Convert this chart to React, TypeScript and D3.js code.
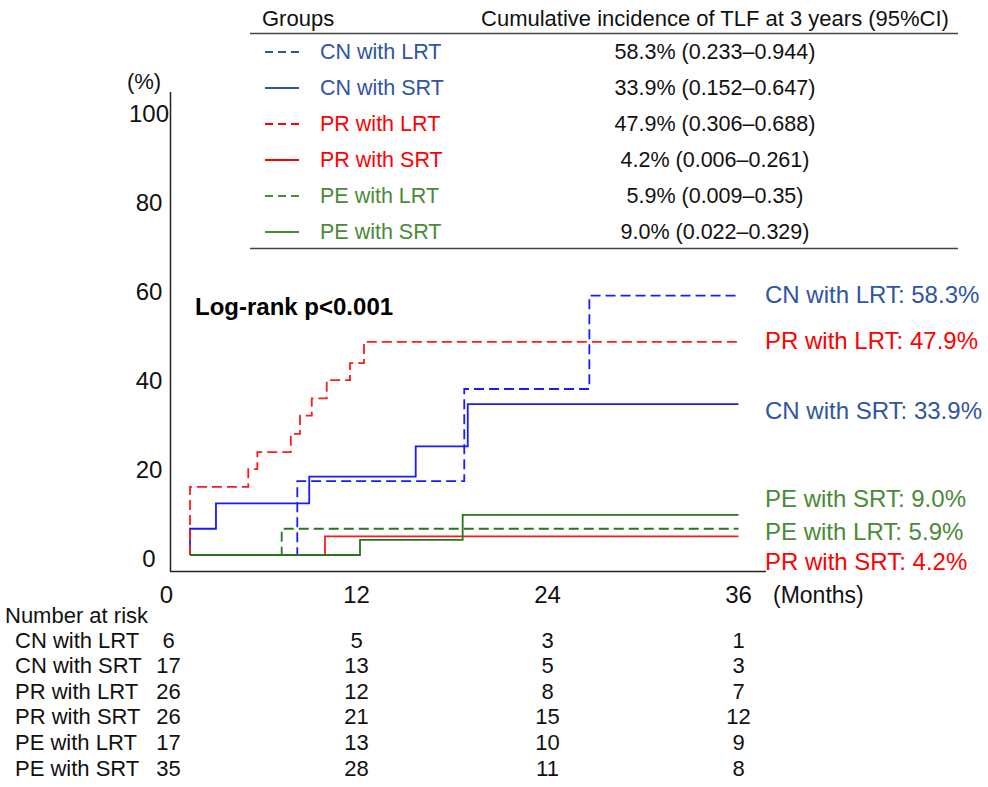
import React, { useEffect, useRef } from 'react';
import * as d3 from 'd3';

// groups, in legend order
const groups = ['CN with LRT', 'CN with SRT', 'PR with LRT', 'PR with SRT', 'PE with LRT', 'PE with SRT'];
const finalPct = [58.3, 33.9, 47.9, 4.2, 5.9, 9.0];
const ciText = ['(0.233–0.944)', '(0.152–0.647)', '(0.306–0.688)', '(0.006–0.261)', '(0.009–0.35)', '(0.022–0.329)'];

// step curves (months, %)
const cnLrtTimes = [1.54, 8.28, 18.77, 26.63, 36];
const cnLrtValues = [0, 16.6, 37.3, 58.3, 58.3];
const cnSrtTimes = [1.54, 1.54, 3.17, 9.03, 15.72, 18.99, 36];
const cnSrtValues = [0, 5.9, 11.6, 17.6, 24.4, 33.9, 33.9];
const prLrtTimes = [1.54, 1.54, 5.2, 5.77, 7.87, 8.45, 9.19, 10.13, 11.59, 12.47, 36];
const prLrtValues = [0, 15.3, 19.3, 23.1, 27.2, 31.3, 35.2, 39.3, 43.1, 47.9, 47.9];
const prSrtTimes = [1.54, 10.02, 36];
const prSrtValues = [0, 4.2, 4.2];
const peLrtTimes = [1.54, 7.3, 36];
const peLrtValues = [0, 5.9, 5.9];
const peSrtTimes = [1.54, 12.22, 18.67, 36];
const peSrtValues = [0, 3.4, 9.0, 9.0];

const curveTimes = [cnLrtTimes, cnSrtTimes, prLrtTimes, prSrtTimes, peLrtTimes, peSrtTimes];
const curveValues = [cnLrtValues, cnSrtValues, prLrtValues, prSrtValues, peLrtValues, peSrtValues];

// number at risk
const riskTimes = [0, 12, 24, 36];
const riskCounts = [
  [6, 5, 3, 1],
  [17, 13, 5, 3],
  [26, 12, 8, 7],
  [26, 21, 15, 12],
  [17, 13, 10, 9],
  [35, 28, 11, 8],
];

const yTicks = [0, 20, 40, 60, 80, 100];
const xTicks = [0, 12, 24, 36];

const lineColor = ['#1a1aff', '#1a1aff', '#ff1a1a', '#ff1a1a', '#2a7420', '#2a7420'];
const textColor = ['#2f55a3', '#2f55a3', '#ff0000', '#ff0000', '#4b8a36', '#4b8a36'];
const dashed = [true, false, true, false, true, false];
// pixel nudges so the end labels don't collide
const labelNudge = [-1, 6, -1, 25, 3, -16];

const FONT = '"Liberation Sans", Arial, sans-serif';

const App = () => {
  const svgRef = useRef(null);

  useEffect(() => {
    const svg = d3.select(svgRef.current);
    svg.selectAll('*').remove();

    const x = d3.scaleLinear().domain([0, 36]).range([165.5, 738.5]);
    const y = d3.scaleLinear().domain([0, 100]).range([555, 110]);

    // axes lines
    svg.append('line').attr('x1', 170.5).attr('x2', 170.5).attr('y1', 92).attr('y2', 571.5)
      .attr('stroke', '#222').attr('stroke-width', 1.5);
    svg.append('line').attr('x1', 170).attr('x2', 766).attr('y1', 571.5).attr('y2', 571.5)
      .attr('stroke', '#222').attr('stroke-width', 1.5);

    // y tick labels
    svg.append('g').selectAll('text').data(yTicks).enter().append('text')
      .attr('x', 149).attr('y', d => y(d) + 3)
      .attr('text-anchor', 'middle').attr('dominant-baseline', 'central')
      .attr('font-size', 24).attr('font-family', FONT).attr('fill', '#111')
      .text(d => d);
    svg.append('text').attr('x', 144).attr('y', 81)
      .attr('text-anchor', 'middle').attr('dominant-baseline', 'central')
      .attr('font-size', 22).attr('font-family', FONT).attr('fill', '#111').text('(%)');

    // x tick labels
    svg.append('g').selectAll('text').data(xTicks).enter().append('text')
      .attr('x', d => x(d) + (d === 0 ? 1 : 0)).attr('y', 594)
      .attr('text-anchor', 'middle').attr('dominant-baseline', 'central')
      .attr('font-size', 24).attr('font-family', FONT).attr('fill', '#111')
      .text(d => d);
    svg.append('text').attr('x', 773).attr('y', 595)
      .attr('dominant-baseline', 'central')
      .attr('font-size', 23).attr('font-family', FONT).attr('fill', '#111').text('(Months)');

    // curves
    const line = d3.line<[number, number]>()
      .x(d => x(d[0])).y(d => y(d[1]))
      .curve(d3.curveStepAfter);
    curveTimes.forEach((ts, i) => {
      const pts: [number, number][] = ts.map((t, j) => [t, curveValues[i][j]]);
      svg.append('path').attr('d', line(pts))
        .attr('fill', 'none').attr('stroke', lineColor[i]).attr('stroke-width', 1.8)
        .attr('stroke-dasharray', dashed[i] ? '10,5' : null);
    });

    // end labels
    groups.forEach((g, i) => {
      svg.append('text').attr('x', 765).attr('y', y(finalPct[i]) + labelNudge[i])
        .attr('dominant-baseline', 'central')
        .attr('font-size', 24).attr('font-family', FONT).attr('fill', textColor[i])
        .text(`${g}: ${finalPct[i].toFixed(1)}%`);
    });

    svg.append('text').attr('x', 195).attr('y', 306)
      .attr('dominant-baseline', 'central')
      .attr('font-size', 24).attr('font-weight', 'bold').attr('font-family', FONT).attr('fill', '#000')
      .text('Log-rank p<0.001');

    // legend table
    const leg = svg.append('g');
    leg.append('text').attr('x', 262).attr('y', 18).attr('dominant-baseline', 'central')
      .attr('font-size', 22).attr('font-family', FONT).attr('fill', '#111').text('Groups');
    leg.append('text').attr('x', 715).attr('y', 18).attr('text-anchor', 'middle').attr('dominant-baseline', 'central')
      .attr('font-size', 22).attr('font-family', FONT).attr('fill', '#111')
      .text('Cumulative incidence of TLF at 3 years (95%CI)');
    leg.append('line').attr('x1', 250).attr('x2', 958).attr('y1', 33.5).attr('y2', 33.5)
      .attr('stroke', '#444').attr('stroke-width', 1.5);
    leg.append('line').attr('x1', 250).attr('x2', 958).attr('y1', 248.5).attr('y2', 248.5)
      .attr('stroke', '#444').attr('stroke-width', 1.5);
    groups.forEach((g, i) => {
      const cy = 52 + i * 36;
      leg.append('line').attr('x1', 265).attr('x2', 299).attr('y1', cy).attr('y2', cy)
        .attr('stroke', textColor[i]).attr('stroke-width', 2)
        .attr('stroke-dasharray', dashed[i] ? '8,5' : null);
      leg.append('text').attr('x', 320).attr('y', cy).attr('dominant-baseline', 'central')
        .attr('font-size', 21.5).attr('font-family', FONT).attr('fill', textColor[i]).text(g);
      leg.append('text').attr('x', 715).attr('y', cy).attr('text-anchor', 'middle').attr('dominant-baseline', 'central')
        .attr('font-size', 21.5).attr('font-family', FONT).attr('fill', '#111')
        .text(`${finalPct[i].toFixed(1)}% ${ciText[i]}`);
    });

    // number at risk table
    const risk = svg.append('g');
    risk.append('text').attr('x', 5).attr('y', 615).attr('dominant-baseline', 'central')
      .attr('font-size', 22).attr('font-family', FONT).attr('fill', '#111').text('Number at risk');
    groups.forEach((g, i) => {
      const cy = 640 + i * 25.6;
      risk.append('text').attr('x', 15).attr('y', cy).attr('dominant-baseline', 'central')
        .attr('font-size', 22).attr('font-family', FONT).attr('fill', '#111').text(g);
      riskTimes.forEach((t, j) => {
        risk.append('text').attr('x', x(t) + (j === 0 ? 3 : 0)).attr('y', cy)
          .attr('text-anchor', 'middle').attr('dominant-baseline', 'central')
          .attr('font-size', 22).attr('font-family', FONT).attr('fill', '#111')
          .text(riskCounts[i][j]);
      });
    });
  }, []);

  return (
    <svg ref={svgRef} width="988" height="787"
      style={{ position: 'absolute', left: 0, top: 0, background: '#fff' }}>
    </svg>
  );
};

export default App;
